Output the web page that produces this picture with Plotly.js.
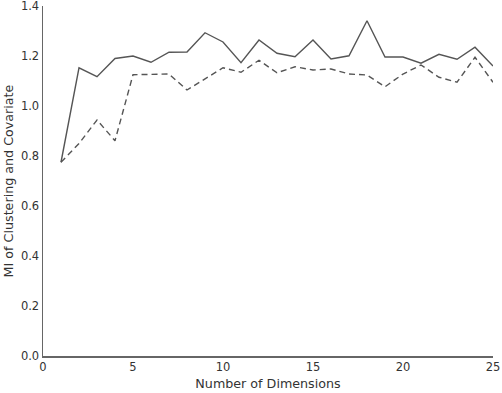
<!DOCTYPE html>
<html>
<head>
<meta charset="utf-8">
<script src="https://cdn.plot.ly/plotly-3.0.1.min.js"></script>
<style>html,body{margin:0;padding:0;background:#fff;}#chart{width:502px;height:393px;}</style>
</head>
<body>
<div id="chart"></div>
<script>
const dims = [1,2,3,4,5,6,7,8,9,10,11,12,13,14,15,16,17,18,19,20,21,22,23,24,25];
const solidMI = [0.775,1.153,1.117,1.19,1.2,1.175,1.215,1.216,1.293,1.256,1.173,1.264,1.211,1.197,1.264,1.188,1.201,1.341,1.196,1.196,1.171,1.207,1.187,1.235,1.16];
const dashedMI = [0.775,0.85,0.944,0.861,1.125,1.128,1.128,1.064,1.108,1.153,1.135,1.183,1.133,1.157,1.144,1.148,1.128,1.124,1.077,1.128,1.164,1.115,1.095,1.195,1.095];
const xTicks = [0,5,10,15,20,25];
const yTicks = [0.0,0.2,0.4,0.6,0.8,1.0,1.2,1.4];

const lineColor = '#555555';
const traces = [
  {x: dims, y: solidMI, mode: 'lines', line: {color: lineColor, width: 1.4}, showlegend: false, hoverinfo: 'skip'},
  {x: dims, y: dashedMI, mode: 'lines', line: {color: lineColor, width: 1.4, dash: '6px,4px'}, showlegend: false, hoverinfo: 'skip'}
];
const font = {family: 'DejaVu Sans, sans-serif', size: 11.5, color: '#333'};
const titleFont = {family: 'DejaVu Sans, sans-serif', size: 12.7, color: '#333'};
const layout = {
  width: 502, height: 393,
  margin: {l: 43, r: 9, t: 6, b: 37},
  paper_bgcolor: '#fff', plot_bgcolor: '#fff',
  font: font,
  xaxis: {
    range: [0, 25], tickvals: xTicks, ticktext: xTicks.map(String),
    showgrid: false, zeroline: false, showline: true, linecolor: '#666', linewidth: 1.5,
    ticks: '', ticklen: 0, tickfont: font, ticklabeloverflow: 'allow',
    title: {text: 'Number of Dimensions', font: titleFont, standoff: 6}
  },
  yaxis: {
    range: [0, 1.4], tickvals: yTicks, ticktext: yTicks.map(v => v.toFixed(1)),
    showgrid: false, zeroline: false, showline: true, linecolor: '#666', linewidth: 1.5,
    ticks: '', ticklen: 0, tickfont: font, ticklabeloverflow: 'allow',
    title: {text: 'MI of Clustering and Covariate', font: titleFont, standoff: 4}
  }
};
Plotly.newPlot('chart', traces, layout, {displayModeBar: false, staticPlot: true});
</script>
</body>
</html>
